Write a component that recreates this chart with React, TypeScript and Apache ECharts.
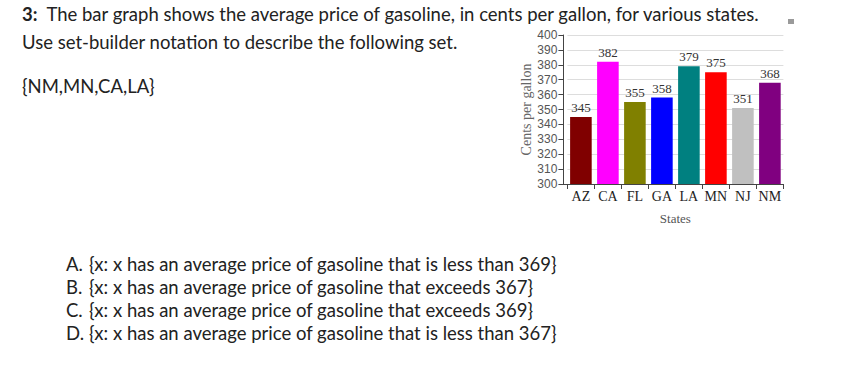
import React, { useEffect, useRef } from "react";
import * as echarts from "echarts";

const states = ["AZ", "CA", "FL", "GA", "LA", "MN", "NJ", "NM"];
const prices = [345, 382, 355, 358, 379, 375, 351, 368];
const barColors = ["#800000", "#ff00ff", "#808000", "#0000ff", "#008080", "#ff0000", "#c0c0c0", "#800080"];
const questionLines = [
  "Use set-builder notation to describe the following set.",
];
const setText = "{NM,MN,CA,LA}";
const optionLetters = ["A.", "B.", "C.", "D."];
const optionTexts = [
  "{x: x has an average price of gasoline that is less than 369}",
  "{x: x has an average price of gasoline that exceeds 367}",
  "{x: x has an average price of gasoline that exceeds 369}",
  "{x: x has an average price of gasoline that is less than 367}",
];

const FONT = "Lato, 'Open Sans', sans-serif";
const FS = 18.5;
const TEXT_COLOR = "#222";

export default function App() {
  const ref = useRef<HTMLDivElement>(null);
  useEffect(() => {
    if (!ref.current) return;
    const chart = echarts.init(ref.current, null, { renderer: "svg" });
    const graphics: any[] = [
      {
        type: "text",
        left: 22,
        top: 4,
        style: {
          text: "{b|3:}  The bar graph shows the average price of gasoline, in cents per gallon, for various states.",
          font: `${FS}px ${FONT}`,
          fill: TEXT_COLOR,
          rich: { b: { fontWeight: "bold", fontSize: FS, fontFamily: FONT, fill: TEXT_COLOR } },
        },
      },
      ...questionLines.map((t, i) => ({
        type: "text",
        left: 22,
        top: 32 + i * 24,
        style: { text: t, font: `${FS}px ${FONT}`, fill: TEXT_COLOR },
      })),
      {
        type: "text",
        left: 22,
        top: 76,
        style: { text: setText, font: `${FS}px ${FONT}`, fill: TEXT_COLOR },
      },
      ...optionLetters.map((t, i) => ({
        type: "text",
        left: 66,
        top: 254 + i * 23,
        style: { text: t, font: `${FS}px ${FONT}`, fill: TEXT_COLOR },
      })),
      ...optionTexts.map((t, i) => ({
        type: "text",
        left: 89,
        top: 254 + i * 23,
        style: { text: t, font: `${FS}px ${FONT}`, fill: TEXT_COLOR },
      })),
      {
        type: "rect",
        shape: { x: 788, y: 19, width: 6, height: 5 },
        style: { fill: "#9a9a9a" },
      },
      {
        type: "line",
        shape: { x1: 563, y1: 184.5, x2: 568, y2: 184.5 },
        style: { stroke: "#444", lineWidth: 1 },
      },
    ];
    chart.setOption({
      animation: false,
      backgroundColor: "#ffffff",
      graphic: graphics,
      grid: { left: 567.4, top: 35, width: 216, height: 149, containLabel: false },
      xAxis: {
        type: "category",
        data: states,
        name: "States",
        nameLocation: "middle",
        nameGap: 28,
        nameTextStyle: { fontFamily: "'Liberation Serif', serif", fontSize: 13, color: "#555" },
        axisLine: { lineStyle: { color: "#444" } },
        axisTick: { show: true, alignWithLabel: false, length: 5, lineStyle: { color: "#444" } },
        axisLabel: { interval: 0, margin: 5, fontFamily: "'Liberation Serif', serif", fontSize: 14, color: "#222" },
        splitLine: { show: false },
      },
      yAxis: {
        type: "value",
        min: 300,
        max: 400,
        interval: 10,
        offset: 4,
        name: "Cents per gallon",
        nameLocation: "middle",
        nameGap: 30,
        nameTextStyle: { fontFamily: "'Liberation Serif', serif", fontSize: 14, color: "#666" },
        axisLine: { show: true, lineStyle: { color: "#444" } },
        axisTick: { show: true, length: 5, lineStyle: { color: "#444" } },
        axisLabel: { margin: 6, fontFamily: "'Liberation Sans', Arial, sans-serif", fontSize: 12, color: "#555" },
        splitLine: { show: true, lineStyle: { color: "#dddddd" } },
      },
      series: [
        {
          type: "bar",
          barWidth: "80%",
          data: prices.map((v, i) => ({ value: v, itemStyle: { color: barColors[i] } })),
          label: {
            show: true,
            position: "top",
            distance: 3,
            fontFamily: "'Liberation Serif', serif",
            fontSize: 13,
            color: "#333",
          },
        },
      ],
    });
    return () => chart.dispose();
  }, []);
  return (
    <div
      ref={ref}
      style={{ position: "absolute", left: 0, top: 0, width: 858, height: 374, background: "#fff" }}
    />
  );
}
